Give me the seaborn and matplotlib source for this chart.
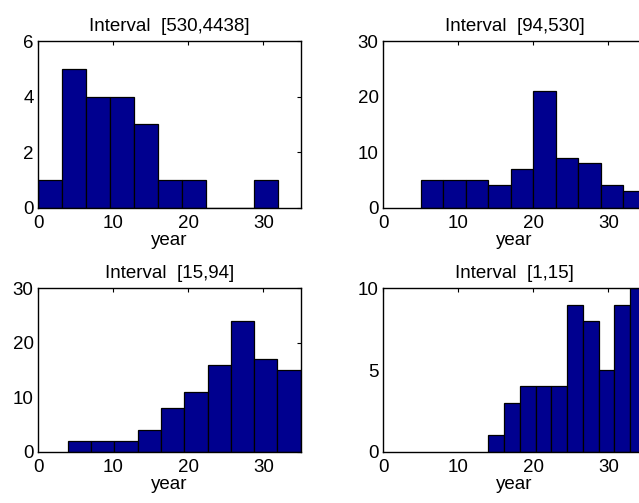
import numpy as np
import pandas as pd
import matplotlib
matplotlib.use("Agg")
import matplotlib.pyplot as plt
import seaborn as sns

# ---- data ----
titles = ["Interval  [530,4438]", "Interval  [94,530]", "Interval  [15,94]", "Interval  [1,15]"]
# bin ranges (min, max of the year values in each interval)
range_530_4438 = (0.0, 32.0)
range_94_530 = (5.0, 35.0)
range_15_94 = (3.9, 35.0)
range_1_15 = (14.0, 35.0)
# counts per bin (10 bins each)
counts_530_4438 = [1, 5, 4, 4, 3, 1, 1, 0, 0, 1]
counts_94_530 = [5, 5, 5, 4, 7, 21, 9, 8, 4, 3]
counts_15_94 = [2, 2, 2, 4, 8, 11, 16, 24, 17, 15]
counts_1_15 = [1, 3, 4, 4, 4, 9, 8, 5, 9, 10]
ylims = [6, 30, 30, 10]
yticks = [[0, 2, 4, 6], [0, 10, 20, 30], [0, 10, 20, 30], [0, 5, 10]]
xticks = [0, 10, 20, 30]
xlabel = "year"

ranges = [range_530_4438, range_94_530, range_15_94, range_1_15]
counts = [counts_530_4438, counts_94_530, counts_15_94, counts_1_15]

sns.set_theme(style="white")
plt.rcParams["font.family"] = ["Liberation Sans", "DejaVu Sans"]
plt.rcParams.update({
    "xtick.direction": "in", "ytick.direction": "in",
    "xtick.top": True, "ytick.right": True,
    "xtick.major.size": 3, "ytick.major.size": 3,
    "xtick.major.width": 0.8, "ytick.major.width": 0.8,
    "axes.edgecolor": "black", "axes.linewidth": 1.0,
    "xtick.color": "black", "ytick.color": "black",
    "text.color": "black", "axes.labelcolor": "black",
    "axes.titlecolor": "black",
})

fig = plt.figure(figsize=(6.39, 5.03), dpi=100)
W, H = 639, 503
pos_px = [
    (38.3, 41.0), (383.3, 41.0),
    (38.3, 288.3), (383.3, 288.3),
]
heights_px = [166.7, 166.7, 163.4, 163.4]
width_px = 262.5

bar_color = "#00008F"
fs = 13.5

for i in range(4):
    lx, ty = pos_px[i]
    h = heights_px[i]
    ax = fig.add_axes([lx / W, 1 - (ty + h) / H, width_px / W, h / H])
    lo, hi = ranges[i]
    edges = np.linspace(lo, hi, len(counts[i]) + 1)
    centers = (edges[:-1] + edges[1:]) / 2
    df = pd.DataFrame({"year": centers, "n": counts[i]})
    sns.histplot(data=df, x="year", weights="n", bins=list(edges), ax=ax,
                 color=bar_color, edgecolor="black", linewidth=0.9, alpha=1.0)
    ax.set_xlim(0, 35)
    ax.set_ylim(0, ylims[i])
    ax.set_xticks(xticks)
    ax.set_yticks(yticks[i])
    ax.tick_params(axis="x", labelsize=fs, pad=5.5)
    ax.tick_params(axis="y", labelsize=fs, pad=3.4)
    ax.set_ylabel("")
    ax.set_xlabel(xlabel, fontsize=fs, labelpad=0)
    ax.set_title(titles[i], fontsize=fs, pad=7.5)
    for s in ax.spines.values():
        s.set_visible(True)
        s.set_color("black")

fig.savefig("out.png", dpi=100)
